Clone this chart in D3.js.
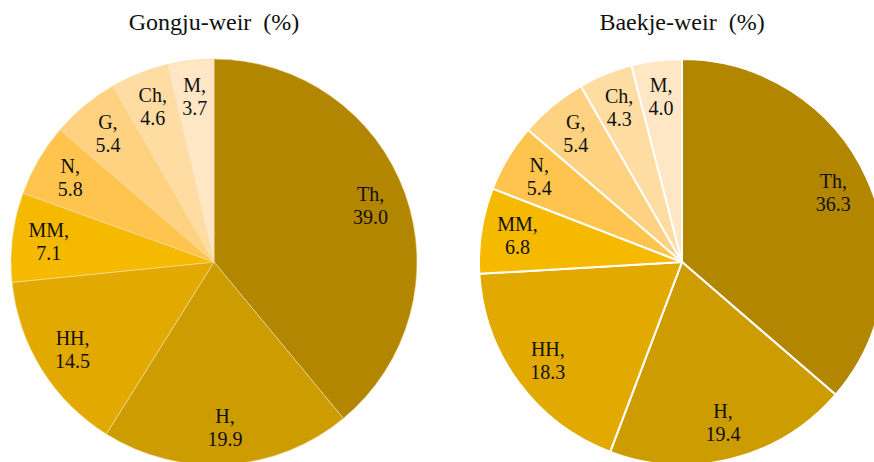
<!DOCTYPE html>
<html>
<head>
<meta charset="utf-8">
<script src="https://cdn.jsdelivr.net/npm/d3@7"></script>
<style>
  body { margin: 0; background: #fff; }
  text { font-family: "Liberation Serif", "Times New Roman", serif; fill: #111; white-space: pre; }
</style>
</head>
<body>
<div id="chart"></div>
<script>
// categories, clockwise from 12 o'clock
const categories = ["Th", "H", "HH", "MM", "N", "G", "Ch", "M"];
const gongjuValues = [39.0, 19.9, 14.5, 7.1, 5.8, 5.4, 4.6, 3.7];
const baekjeValues = [36.3, 19.4, 18.3, 6.8, 5.4, 5.4, 4.3, 4.0];
const titles = ["Gongju-weir  (%)", "Baekje-weir  (%)"];
const colors = ["#b38600", "#cc9c00", "#e2aa00", "#f5b900", "#fec44d", "#fed280", "#fedca2", "#ffe6c4"];

const width = 874, height = 462;
const svg = d3.select("#chart").append("svg")
    .attr("width", width)
    .attr("height", height);

const color = d3.scaleOrdinal().domain(categories).range(colors);
const radius = 203;

const pie = d3.pie().sort(null).value(d => d.value);
const arc = d3.arc().innerRadius(0).outerRadius(radius);
const labelArc = d3.arc().innerRadius(radius * 0.82).outerRadius(radius * 0.82);

// one pie per weir
const pies = [
    { title: titles[0], values: gongjuValues, cx: 214, stroke: "#f3dfa8", sw: 0.6 },
    { title: titles[1], values: baekjeValues, cx: 682, stroke: "#fff", sw: 2 }
];

pies.forEach(p => {
    const data = categories.map((c, i) => ({ name: c, value: p.values[i] }));

    svg.append("text")
        .attr("x", p.cx)
        .attr("y", 30)
        .attr("text-anchor", "middle")
        .style("font-size", "24px")
        .text(p.title);

    const g = svg.append("g")
        .attr("transform", `translate(${p.cx},262)`);

    g.selectAll("path")
        .data(pie(data))
        .enter().append("path")
        .attr("d", arc)
        .attr("fill", d => color(d.data.name))
        .attr("stroke", p.stroke)
        .attr("stroke-width", p.sw);

    const lab = g.selectAll(".lab")
        .data(pie(data))
        .enter().append("text")
        .attr("class", "lab")
        .attr("text-anchor", "middle")
        .attr("transform", d => `translate(${labelArc.centroid(d)})`)
        .style("font-size", "20px");

    lab.append("tspan").attr("x", 0).attr("dy", "-0.25em").text(d => d.data.name + ",");
    lab.append("tspan").attr("x", 0).attr("dy", "1.15em").text(d => d.data.value.toFixed(1));
});
</script>
</body>
</html>
